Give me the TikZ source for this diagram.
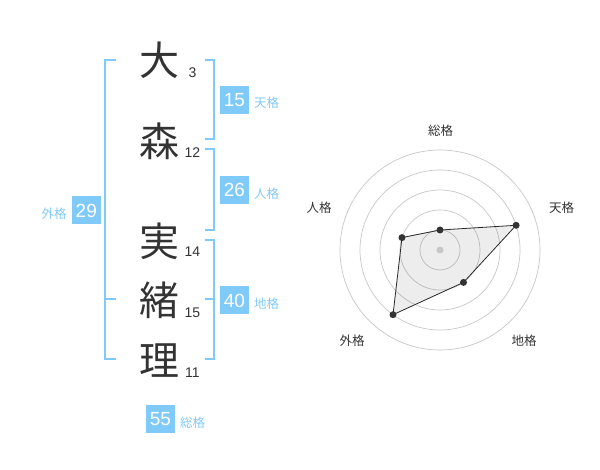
\documentclass[tikz,border=0pt]{standalone}
\usepackage{fontspec}
\setmainfont{Liberation Sans}
\newfontfamily\jp{Noto Sans CJK JP}
\definecolor{sky}{HTML}{80CAFA}
\definecolor{ink}{HTML}{333333}
\begin{document}
\begin{tikzpicture}[x=1pt,y=-1pt,
  kanji/.style={font=\jp\fontsize{40}{40}\selectfont, text=ink, inner sep=0, text height=33.2pt, text depth=2.8pt},
  strokes/.style={font=\fontsize{14}{14}\selectfont, text=ink, inner sep=0, text height=10pt, text depth=0pt},
  numbox/.style={fill=sky, text=white, minimum width=29pt, minimum height=28pt, inner sep=0, font=\fontsize{19}{19}\selectfont, text height=13.7pt, text depth=0pt},
  kaku/.style={text=sky, font=\jp\fontsize{12.5}{12.5}\selectfont, inner sep=0, text height=10.4pt, text depth=0.9pt},
  bracket/.style={draw=sky, line width=2pt},
  ring/.style={draw=black!22, line width=0.7pt},
  axlabel/.style={text=ink, font=\jp\fontsize{12.5}{12.5}\selectfont, inner sep=0, text height=10.4pt, text depth=0.9pt},
  dot/.style={circle, fill=ink, inner sep=0, minimum size=7pt},
]
\useasboundingbox (0,0) rectangle (600,470);
% name characters
\node[kanji] (k1) at (159.5,60) {大};
\node[kanji] (k2) at (159.5,141) {森};
\node[kanji] (k3) at (159.5,241) {実};
\node[kanji] (k4) at (159.5,300) {緒};
\node[kanji] (k5) at (159.5,360) {理};
\node[strokes] (s1) at (192.5,73) {3};
\node[strokes] (s2) at (192.5,153) {12};
\node[strokes] (s3) at (192.5,252) {14};
\node[strokes] (s4) at (192.5,313) {15};
\node[strokes] (s5) at (192.5,372.5) {11};
% brackets
\draw[bracket] (116,60) -- (105,60) -- (105,359) -- (116,359);
\draw[bracket] (105,299) -- (116,299);
\draw[bracket] (205,60) -- (214,60) -- (214,139) -- (205,139);
\draw[bracket] (205,149) -- (214,149) -- (214,230) -- (205,230);
\draw[bracket] (205,240) -- (214,240) -- (214,359) -- (205,359);
\draw[bracket] (205,299) -- (214,299);
% boxes and labels
\node[numbox] (b1) at (234.5,100) {15};
\node[kaku, anchor=west] (l1) at (254,103) {天格};
\node[numbox] (b2) at (234.5,190) {26};
\node[kaku, anchor=west] (l2) at (254,194) {人格};
\node[numbox] (b3) at (86.3,210.5) {29};
\node[kaku, anchor=west] (l3) at (41.5,213.5) {外格};
\node[numbox] (b4) at (234.5,300.5) {40};
\node[kaku, anchor=west] (l4) at (254,304) {地格};
\node[numbox] (b5) at (160.5,419) {55};
\node[kaku, anchor=west] (l5) at (180,422.5) {総格};
% radar
\coordinate (c) at (440,250);
\foreach \r in {20,40,60,80,100} \draw[ring] (c) circle[radius=\r];
\coordinate (p1) at (440,230);
\coordinate (p2) at (516.1,225.3);
\coordinate (p3) at (463.5,282.4);
\coordinate (p4) at (393,314.7);
\coordinate (p5) at (402,237.6);
\fill[black, opacity=0.07] (p1) -- (p2) -- (p3) -- (p4) -- (p5) -- cycle;
\draw[ink!80!black, line width=0.8pt] (p1) -- (p2) -- (p3) -- (p4) -- (p5) -- cycle;
\foreach \p in {p1,p2,p3,p4,p5} \node[dot] at (\p) {};
\node[circle, fill=black!22, inner sep=0, minimum size=7pt] (cd) at (c) {};
\node[axlabel] (a1) at (440.5,130.5) {総格};
\node[axlabel] (a2) at (561.5,208) {天格};
\node[axlabel] (a3) at (524,341) {地格};
\node[axlabel] (a4) at (352,341) {外格};
\node[axlabel] (a5) at (319,208) {人格};
\end{tikzpicture}
\end{document}
